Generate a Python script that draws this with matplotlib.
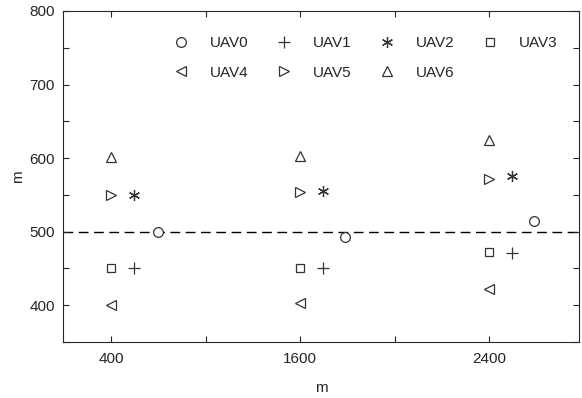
import matplotlib
matplotlib.use("Agg")
import matplotlib.pyplot as plt
from matplotlib.ticker import MultipleLocator

plt.rcParams['font.family'] = ['Liberation Sans', 'DejaVu Sans']

# group tick labels (positions 0, 1, 2 on x)
tick_labels = ['400', '', '1600', '', '2400']
tick_pos = [0, 0.5, 1, 1.5, 2]

names = ['UAV0', 'UAV1', 'UAV2', 'UAV3', 'UAV4', 'UAV5', 'UAV6']
markers = ['o', '+', (6, 2, 0), 's', '<', '>', '^']

uav_x = {
    'UAV0': [0.25, 1.24, 2.24],
    'UAV1': [0.12, 1.12, 2.12],
    'UAV2': [0.12, 1.12, 2.12],
    'UAV3': [0.0, 1.0, 2.0],
    'UAV4': [0.0, 1.0, 2.0],
    'UAV5': [0.0, 1.0, 2.0],
    'UAV6': [0.0, 1.0, 2.0],
}
uav_y = {
    'UAV0': [500, 493, 515],
    'UAV1': [450, 450, 471],
    'UAV2': [550, 555, 576],
    'UAV3': [450, 451, 473],
    'UAV4': [400, 403, 422],
    'UAV5': [550, 554, 572],
    'UAV6': [602, 603, 625],
}
ref_y = 500

col = '#262626'
mcol = '#333333'
fs = 11
fig = plt.figure(figsize=(5.82, 3.98), dpi=100)
ax = fig.add_axes([63/582, 1-342/398, (579-63)/582, (342-11)/398])

ax.axhline(ref_y, color='black', lw=1.0, ls=(0, (7, 4)), zorder=1)

sizes = {'o': 7, '+': 8, 's': 5.5, '<': 7, '>': 7, '^': 7}
handles = []
for n, m in zip(names, markers):
    ms = sizes.get(m, 8) if isinstance(m, str) else 8
    h, = ax.plot(uav_x[n], uav_y[n], ls='none', marker=m, ms=ms,
                 mfc='white' if n == 'UAV0' else 'none', mec=mcol, mew=0.9,
                 color=mcol, label=n, zorder=3)
    handles.append(h)

order = [0, 4, 1, 5, 2, 6, 3]
leg = ax.legend([handles[i] for i in order], [names[i] for i in order],
                ncol=4, frameon=False, loc='upper left',
                bbox_to_anchor=(0.184, 0.965), fontsize=fs,
                handlelength=1.2, handletextpad=1.3, columnspacing=1.72,
                labelspacing=1.0, numpoints=1)
for t in leg.get_texts():
    t.set_color(col)

ax.set_xlim(-0.254, 2.476)
ax.set_ylim(350, 800)
ax.set_xticks(tick_pos)
ax.set_xticklabels(tick_labels)
ax.yaxis.set_major_locator(MultipleLocator(50))
ax.set_yticklabels(['' if v % 100 else str(int(v)) for v in ax.get_yticks()])
ax.set_ylim(350, 800)
ax.tick_params(direction='in', top=True, right=True, length=4, width=0.8,
               labelsize=fs, colors=col)
ax.tick_params(axis='x', pad=7)
ax.tick_params(axis='y', pad=5.8)
for s in ax.spines.values():
    s.set_color(col)
    s.set_linewidth(0.8)

ax.set_xlabel('m', fontsize=fs, color=col, labelpad=11)
ax.set_ylabel('m', fontsize=fs, color=col, labelpad=3.5)

fig.savefig('out.png', dpi=100)
